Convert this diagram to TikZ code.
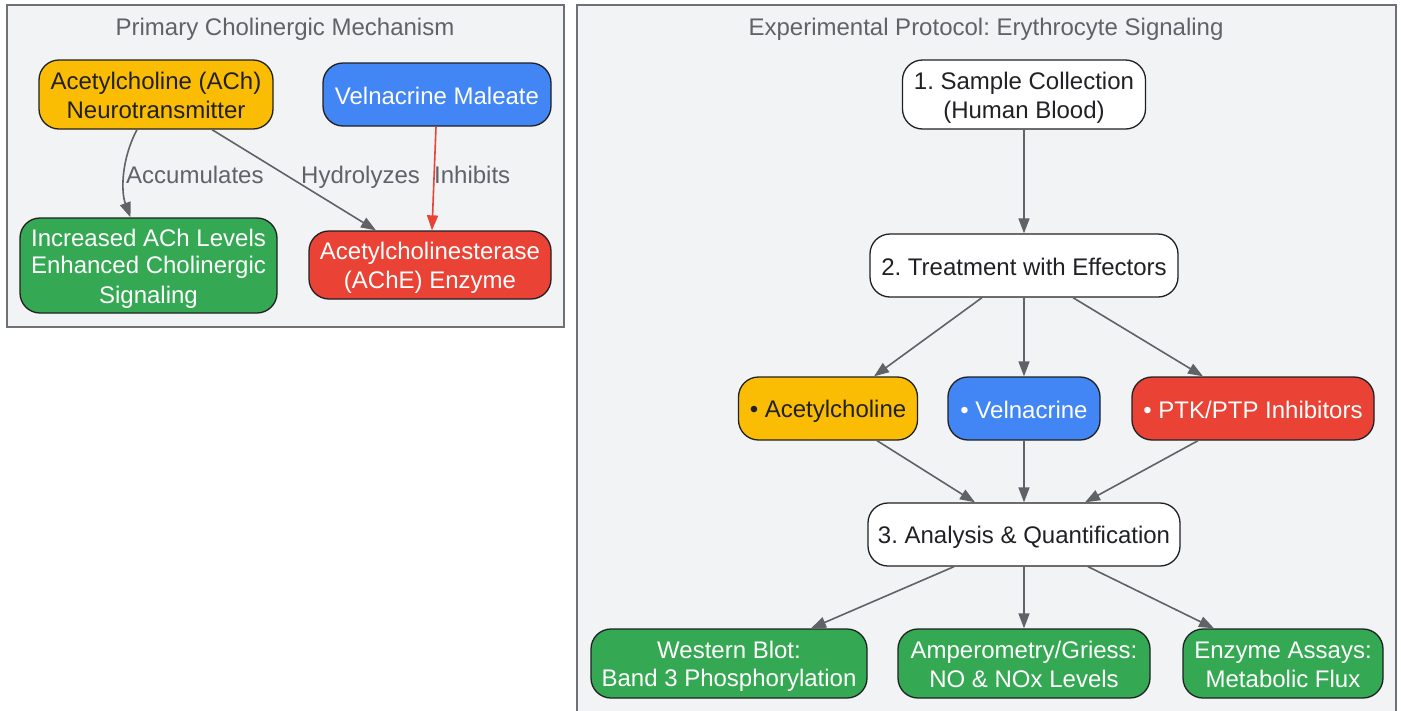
\documentclass[tikz,border=0pt]{standalone}
\usepackage{fontspec}
\setmainfont{Liberation Sans}
\usetikzlibrary{arrows.meta}
\definecolor{cyel}{HTML}{FBBC04}
\definecolor{cblue}{HTML}{4285F4}
\definecolor{cred}{HTML}{EA4335}
\definecolor{cgreen}{HTML}{34A853}
\definecolor{cdark}{HTML}{202124}
\definecolor{cgray}{HTML}{5F6368}
\definecolor{cbg}{HTML}{F1F3F4}
\definecolor{cborder}{HTML}{6E7175}
\newcommand\nstrut{\vrule width 0pt height 23.25pt depth 4.25pt\relax}
\frenchspacing
\begin{document}
\begin{tikzpicture}[x=1pt,y=-1pt,
  every node/.style={font=\fontsize{24}{27.5}\selectfont},
  box/.style={draw=cdark, line width=1.3pt, rounded corners=20pt, align=center, inner sep=0pt},
  wbox/.style={box, fill=white, text=cdark},
  ybox/.style={box, fill=cyel, text=cdark},
  bbox/.style={box, fill=cblue, text=white},
  rbox/.style={box, fill=cred, text=white},
  gbox/.style={box, fill=cgreen, text=white},
  cluster/.style={draw=cborder, line width=1.5pt, fill=cbg},
  ttl/.style={text=cgray, inner sep=0pt, anchor=base},
  lbl/.style={text=cgray, inner sep=0pt, anchor=base west},
  edge/.style={draw=cgray, line width=1.6pt, -{Triangle[length=15pt,width=11pt]}},
  redge/.style={draw=cred, line width=1.6pt, -{Triangle[length=15pt,width=11pt]}}
]
\useasboundingbox (0,0) rectangle (1401,710);
\fill[white] (0,0) rectangle (1401,710);
% clusters
\draw[cluster] (7,5) rectangle (564,327);
\draw[cluster] (577,5) rectangle (1396,714);
\node[ttl] (t1) at (285,35) {Primary Cholinergic Mechanism};
\node[ttl] (t2) at (986,35) {Experimental Protocol: Erythrocyte Signaling};
% left nodes
\node[ybox, minimum width=234pt, minimum height=69pt] (ach) at (156,94.5) {\nstrut Acetylcholine (ACh)\\Neurotransmitter\nstrut};
\node[bbox, minimum width=228pt, minimum height=63pt] (vel) at (437,94.5) {\nstrut Velnacrine Maleate\nstrut};
\node[gbox, minimum width=257pt, minimum height=95pt] (inc) at (148.5,265.5) {\nstrut Increased ACh Levels\\Enhanced Cholinergic\\Signaling\nstrut};
\node[rbox, minimum width=242pt, minimum height=68pt] (ache) at (430,265) {\nstrut Acetylcholinesterase\\(AChE) Enzyme\nstrut};
% left edges
\draw[edge] ([xshift=-19pt]ach.south) .. controls (121,160) and (121,192) .. ([xshift=-18pt]inc.north);
\draw[edge] ([xshift=56pt]ach.south) -- ([xshift=-54pt]ache.north);
\draw[redge] ([xshift=-1pt]vel.south) -- ([xshift=2pt]ache.north);
\node[lbl] (lacc) at (126,183) {Accumulates};
\node[lbl] (lhyd) at (301,183) {Hydrolyzes};
\node[lbl] (linh) at (434,183) {Inhibits};
% right nodes
\node[wbox, minimum width=243pt, minimum height=69pt] (s1) at (1024,94.5) {\nstrut 1. Sample Collection\\(Human Blood)\nstrut};
\node[wbox, minimum width=308pt, minimum height=63pt] (s2) at (1024,265.5) {\nstrut 2. Treatment with Effectors\nstrut};
\node[ybox, minimum width=179pt, minimum height=63pt] (tach) at (828,408.5) {\nstrut • Acetylcholine\nstrut};
\node[bbox, minimum width=152pt, minimum height=63pt] (tvel) at (1024,408.5) {\nstrut • Velnacrine\nstrut};
\node[rbox, minimum width=242pt, minimum height=63pt] (tptk) at (1253,408.5) {\nstrut • PTK/PTP Inhibitors\nstrut};
\node[wbox, minimum width=312pt, minimum height=63pt] (s3) at (1024,534.5) {\nstrut 3. Analysis \& Quantification\nstrut};
\node[gbox, minimum width=276pt, minimum height=69pt] (wb) at (729,663.5) {\nstrut Western Blot:\\Band 3 Phosphorylation\nstrut};
\node[gbox, minimum width=252pt, minimum height=69pt] (amp) at (1024,663.5) {\nstrut Amperometry/Griess:\\NO \& NOx Levels\nstrut};
\node[gbox, minimum width=200pt, minimum height=69pt] (enz) at (1283,663.5) {\nstrut Enzyme Assays:\\Metabolic Flux\nstrut};
% right edges
\draw[edge] (s1.south) -- (s2.north);
\draw[edge] ([xshift=-42pt]s2.south) -- ([xshift=46pt]tach.north);
\draw[edge] (s2.south) -- (tvel.north);
\draw[edge] ([xshift=49pt]s2.south) -- ([xshift=-50pt]tptk.north);
\draw[edge] ([xshift=49pt]tach.south) -- ([xshift=-49pt]s3.north);
\draw[edge] (tvel.south) -- (s3.north);
\draw[edge] ([xshift=-55pt]tptk.south) -- ([xshift=61pt]s3.north);
\draw[edge] ([xshift=-70pt]s3.south) -- ([xshift=82pt]wb.north);
\draw[edge] (s3.south) -- (amp.north);
\draw[edge] ([xshift=64pt]s3.south) -- ([xshift=-69pt]enz.north);
\end{tikzpicture}
\end{document}
